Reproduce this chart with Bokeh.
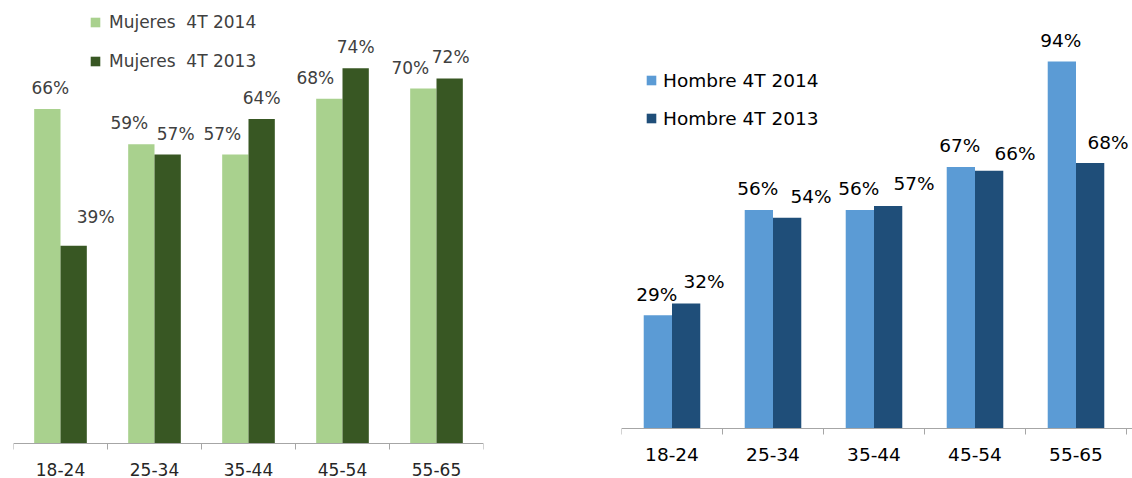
from bokeh.plotting import figure
from bokeh.models import ColumnDataSource, Range1d, FixedTicker, Legend, LegendItem
from bokeh.layouts import row
from bokeh.embed import file_html
from bokeh.resources import INLINE
from bokeh.core.properties import value

# ---- data ----
categories = ["18-24", "25-34", "35-44", "45-54", "55-65"]
mujeres_2014 = [66, 59, 57, 68, 70]
mujeres_2013 = [39, 57, 64, 74, 72]
hombre_2014 = [29, 56, 56, 67, 94]
hombre_2013 = [32, 54, 57, 66, 68]
series_names_left = ["Mujeres  4T 2014", "Mujeres  4T 2013"]
series_names_right = ["Hombre 4T 2014", "Hombre 4T 2013"]

# label nudges (pixels) mimicking the original label placement
left_dx_2014 = [3, -12, -13, -14, -13]
left_dx_2013 = [22, 8, 0, 0, 1]
left_gap_2013 = [-29, -21, -21, -21, -21]
right_dx_2014 = [-1, -1, -1, -1, -1]
right_dx_2013 = [18, 24, 26, 26, 18]
right_gap_2013 = [-22, -21, -22, -17, -21]

FONT = "DejaVu Sans"
H = 478


def make_panel(vals_a, vals_b, names, colors, width, border_l, border_r,
               x_end, px_per, baseline, font_size, text_color, tick_color,
               dx_a, dx_b, gap_b, legend_loc, legend_spacing, label_h,
               label_standoff, tick_standoff):
    y_start = -(H - baseline) / px_per
    y_end = baseline / px_per
    p = figure(width=width, height=H, output_backend="svg",
               toolbar_location=None, x_range=Range1d(0, x_end),
               y_range=Range1d(y_start, y_end), y_axis_location=None,
               min_border_left=border_l, min_border_right=border_r,
               min_border_top=0, min_border_bottom=0)
    p.outline_line_color = None
    p.xgrid.visible = False
    p.ygrid.visible = False
    p.background_fill_color = "white"
    p.border_fill_color = "white"

    n = len(categories)
    centers = [i + 0.5 for i in range(n)]
    src_a = ColumnDataSource(dict(x=[c - 0.14 for c in centers], top=vals_a,
                                  lab=[f"{v}%" for v in vals_a], dx=dx_a,
                                  dy=[-21] * n))
    src_b = ColumnDataSource(dict(x=[c + 0.14 for c in centers], top=vals_b,
                                  lab=[f"{v}%" for v in vals_b], dx=dx_b,
                                  dy=gap_b))
    ra = p.vbar(x="x", top="top", bottom=0, width=0.28, source=src_a,
                fill_color=colors[0], line_color=None)
    rb = p.vbar(x="x", top="top", bottom=0, width=0.28, source=src_b,
                fill_color=colors[1], line_color=None)
    for s in (src_a, src_b):
        p.text(x="x", y="top", text="lab", x_offset="dx", y_offset="dy",
               source=s, text_align="center", text_baseline="middle",
               text_font=value(FONT), text_font_size=font_size,
               text_color=text_color)

    ax = p.xaxis[0]
    ax.fixed_location = 0
    ax.ticker = FixedTicker(ticks=centers, minor_ticks=list(range(n + 1)))
    ax.major_label_overrides = {c: cat for c, cat in zip(centers, categories)}
    ax.major_tick_out = 0
    ax.major_tick_in = 0
    ax.minor_tick_out = 6
    ax.minor_tick_in = 0
    ax.axis_line_color = "#A6A6A6"
    ax.minor_tick_line_color = "#A6A6A6"
    ax.major_label_text_font = FONT
    ax.major_label_text_font_size = font_size
    ax.major_label_text_color = tick_color
    ax.major_label_standoff = tick_standoff

    legend = Legend(items=[LegendItem(label=names[0], renderers=[ra]),
                           LegendItem(label=names[1], renderers=[rb])],
                    location=legend_loc, orientation="vertical",
                    glyph_width=12, glyph_height=12, label_height=label_h,
                    spacing=legend_spacing, padding=0, margin=0,
                    label_standoff=label_standoff,
                    label_text_font=FONT, label_text_font_size=font_size,
                    label_text_color=text_color,
                    border_line_color=None, background_fill_alpha=0)
    p.add_layout(legend, "center")
    return p


# left frame: x 13..483 (94 px per group), baseline at 443, 5.07 px per %
left = make_panel(mujeres_2014, mujeres_2013, series_names_left,
                  ["#A9D18E", "#385723"], width=560, border_l=13, border_r=77,
                  x_end=5.0, px_per=5.07, baseline=443, font_size="17px",
                  text_color="#404040", tick_color="#262626",
                  dx_a=left_dx_2014, dx_b=left_dx_2013, gap_b=left_gap_2013,
                  legend_loc=(76, H - 71), legend_spacing=19, label_h=20,
                  label_standoff=8, tick_standoff=13)

# right frame: x 621..1132 (101 px per group), baseline at 428, 3.904 px per %
right = make_panel(hombre_2014, hombre_2013, series_names_right,
                   ["#5B9BD5", "#1F4E79"], width=572, border_l=61, border_r=0,
                   x_end=511 / 101, px_per=3.904, baseline=428,
                   font_size="18.5px", text_color="#000000",
                   tick_color="#000000", dx_a=right_dx_2014,
                   dx_b=right_dx_2013, gap_b=right_gap_2013,
                   legend_loc=(24, H - 129), legend_spacing=16, label_h=22,
                   label_standoff=6, tick_standoff=13)

layout = row(left, right)
open("out.html", "w").write(file_html(layout, INLINE))
